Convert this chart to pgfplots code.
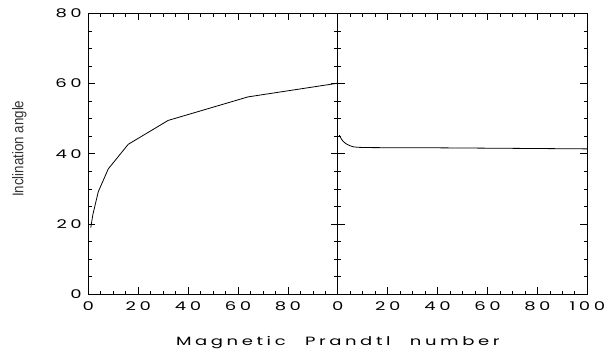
\documentclass[border=0pt]{standalone}
\usepackage{fontspec}
\usepackage{graphicx}
\usepackage{pgfplots}
\pgfplotsset{compat=1.18}
\newfontfamily\tickfont[LetterSpace=20,WordSpace=2.3]{Poppins}
\newfontfamily\labfont{Liberation Sans}
\newcommand\tl[1]{\scalebox{1.5}[1]{\fontsize{12}{12}\tickfont #1}}
\pgfplotstableread{
x y
1 19.0
1.8 22.6
4 29.2
8 35.7
16 42.7
32 49.5
64 56.2
100 60.1
}\leftdata
\pgfplotstableread{
x y
0.6 45.3
2.2 43.5
4.9 42.3
10.3 41.8
40 41.7
100 41.4
}\rightdata
\pgfplotsset{
  panel/.style={
    scale only axis, width=249.5pt, height=281pt,
    xmin=0, xmax=100, ymin=0, ymax=80,
    xtick={0,20,...,100}, ytick={0,20,...,80},
    minor x tick num=3, minor y tick num=3,
    tick align=inside, major tick length=7pt, minor tick length=3.5pt,
    tick style={black, line width=0.7pt},
    axis line style={line width=0.8pt},
    xticklabel style={yshift=-4pt},
    yticklabel style={xshift=-3pt},
  }
}
\begin{document}
\begin{tikzpicture}[x=1pt,y=1pt]
\useasboundingbox (0,0) rectangle (608,351);
\begin{axis}[panel, at={(88.3pt,56.7pt)}, anchor=south west,
  xticklabels={\tl{0},\tl{20},\tl{40},\tl{60},\tl{80},{}},
  yticklabels={\tl{0},\tl{20},\tl{40},\tl{60},\tl{80}},
  ylabel={\scalebox{0.86}[1]{\fontsize{15.5}{15.5}\labfont Inclination angle}},
  ylabel style={at={(axis description cs:-0.276,0.518)}, anchor=center, black!80},
  xlabel={\tl{Magnetic Prandtl number}},
  xlabel style={at={(axis description cs:1,0)}, anchor=center, yshift=-48.7pt},
]
\addplot[black, line width=0.8pt, no marks] table[x=x,y=y] {\leftdata};
\end{axis}
\begin{axis}[panel, at={(337.8pt,56.7pt)}, anchor=south west,
  xticklabels={\tl{0},\tl{20},\tl{40},\tl{60},\tl{80},\tl{100}},
  yticklabels={},
]
\addplot[black, line width=0.8pt, no marks, smooth, tension=0.5] table[x=x,y=y] {\rightdata};
\end{axis}
\end{tikzpicture}
\end{document}
